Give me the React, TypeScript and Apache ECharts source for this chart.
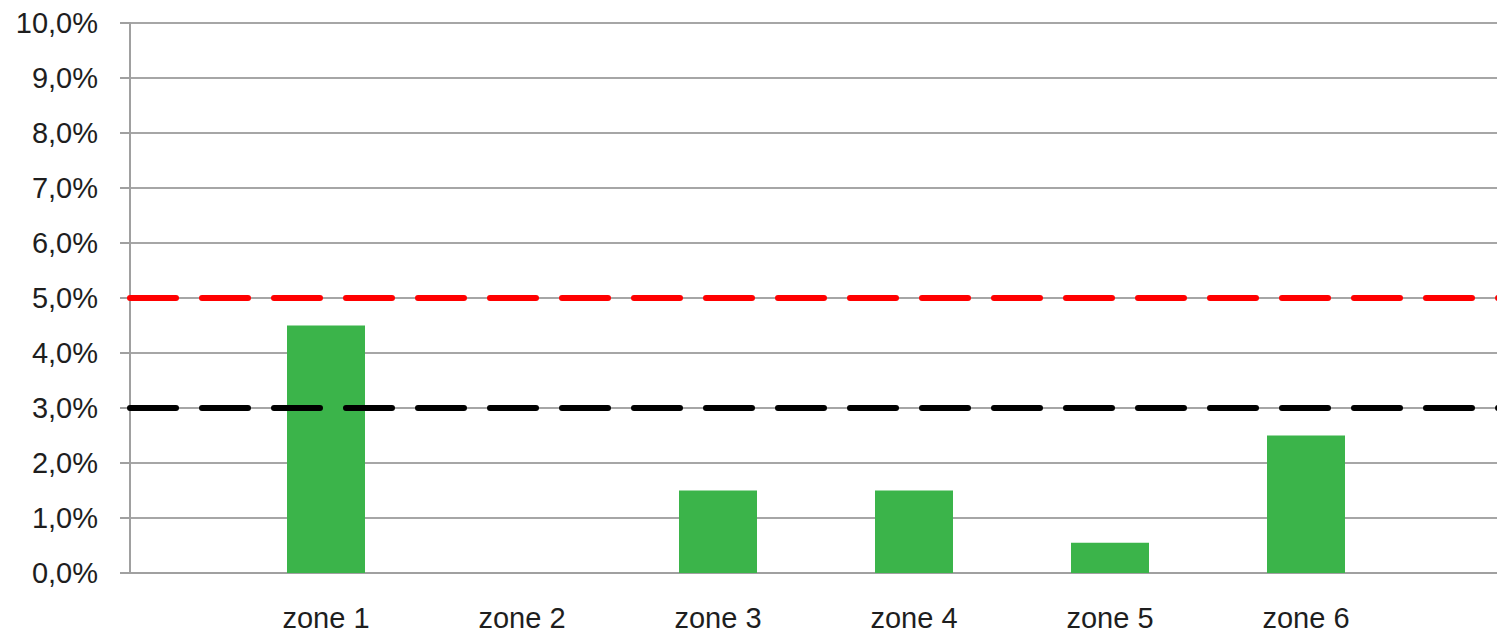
import React, { useEffect, useRef } from "react";
import * as echarts from "echarts";

const categories = ["", "zone 1", "zone 2", "zone 3", "zone 4", "zone 5", "zone 6", ""];
const shareValues: (number | string)[] = ["-", 4.5, 0, 1.5, 1.5, 0.55, 2.5, "-"];
const thresholdHigh = 5;
const thresholdLow = 3;
const yMin = 0;
const yMax = 10;
const yInterval = 1;

const FONT = "'Liberation Sans', Arial, sans-serif";

export default function App() {
  const ref = useRef<HTMLDivElement>(null);
  useEffect(() => {
    if (!ref.current) return;
    const chart = echarts.init(ref.current, null, { renderer: "svg" });
    const dash = {
      type: [46, 26],
      width: 6,
      cap: "round",
    };
    chart.setOption({
      animation: false,
      backgroundColor: "#ffffff",
      grid: { left: 130, top: 23, bottom: 59, right: 8, containLabel: false },
      xAxis: {
        type: "category",
        data: categories,
        boundaryGap: false,
        axisLine: { show: true, lineStyle: { color: "#a0a0a0", width: 2 } },
        axisTick: { show: false },
        splitLine: { show: false },
        axisLabel: {
          interval: 0,
          margin: 30,
          fontFamily: FONT,
          fontSize: 29,
          color: "#1e1e1e",
        },
      },
      yAxis: {
        type: "value",
        min: yMin,
        max: yMax,
        interval: yInterval,
        axisLine: { show: true, lineStyle: { color: "#a0a0a0", width: 2 } },
        axisTick: { show: true, length: 10, lineStyle: { color: "#a0a0a0", width: 2 } },
        splitLine: { show: true, lineStyle: { color: "#a6a6a6", width: 2 } },
        axisLabel: {
          margin: 32,
          fontFamily: FONT,
          fontSize: 29,
          color: "#1e1e1e",
          formatter: (v: number) => v.toFixed(1).replace(".", ",") + "%",
        },
      },
      series: [
        {
          type: "bar",
          data: shareValues,
          barWidth: 78,
          itemStyle: { color: "#3bb44a" },
          markLine: {
            silent: true,
            symbol: ["none", "none"],
            label: { show: false },
            emphasis: { disabled: true },
            data: [
              { yAxis: thresholdHigh, lineStyle: { ...dash, color: "#ff0000" } },
              { yAxis: thresholdLow, lineStyle: { ...dash, color: "#000000" } },
            ],
          },
        },
      ],
    });
    return () => chart.dispose();
  }, []);
  return (
    <div style={{ position: "fixed", left: 0, top: 0, width: 1497, height: 632, overflow: "hidden", background: "#fff" }}>
      <div ref={ref} style={{ width: 1510, height: 632 }} />
    </div>
  );
}
